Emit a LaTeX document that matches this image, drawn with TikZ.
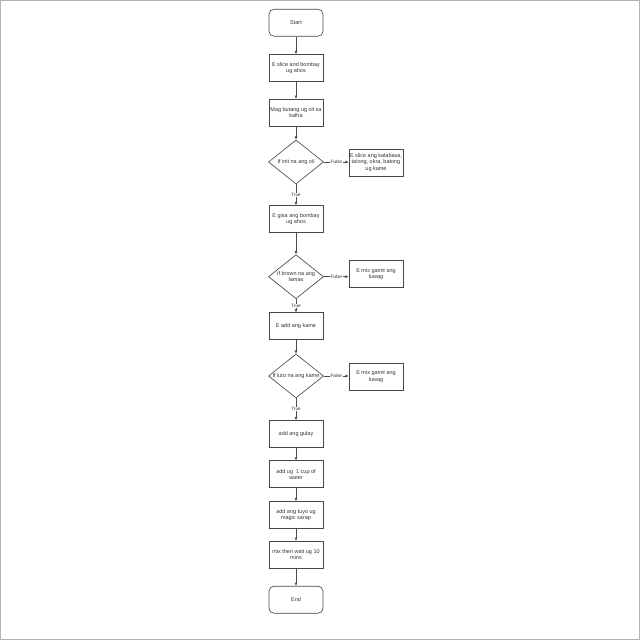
\documentclass[tikz,border=0pt]{standalone}
\usepackage{fontspec}
\setmainfont{Liberation Sans}
\usetikzlibrary{shapes.geometric,arrows.meta}
\begin{document}
\begin{tikzpicture}[x=1pt,y=-1pt,
  txt/.style={font=\fontsize{5.5}{6.4}\selectfont, text=black!80, align=center},
  boxstyle/.style={draw=black!72, line width=0.65pt, rectangle, minimum width=54pt, minimum height=27pt, inner sep=0pt, txt},
  termstyle/.style={boxstyle, rounded corners=5pt},
  diastyle/.style={draw=black!72, line width=0.65pt, diamond, minimum width=55pt, minimum height=44pt, inner sep=0pt},
  arr/.style={draw=black!70, line width=0.65pt, -{Latex[length=3.2pt,width=3pt]}},
  lbl/.style={font=\fontsize{4.7}{5}\selectfont, text=black!80, fill=white, inner sep=0.6pt}
]
\useasboundingbox (0,0) rectangle (641,641);
\draw[draw=black!30, line width=1.4pt] (0.7,0.7) rectangle (639.6,639.6);

\node[termstyle] (start) at (296,22.7) {Start};
\node[boxstyle] (b1) at (296,68) {E slice and bombay\\ug ahos};
\node[boxstyle] (b2) at (296,112.7) {Mag butang ug oil sa\\kalha};
\node[diastyle] (d1) at (296,162) {};
\node[txt] (d1t) at (d1.center) {If init na ang oil};
\node[boxstyle] (s1) at (376,162.5) {E slice ang kalabasa,\\talong, okra, batong\\ug kame};
\node[boxstyle] (b3) at (296,219) {E gisa ang bombay\\ug ahos};
\node[diastyle] (d2) at (296,276.7) {};
\node[txt] (d2t) at (d2.center) {If brown na ang\\lamas};
\node[boxstyle] (s2) at (376,274) {E mix gamit ang\\luwag};
\node[boxstyle] (b4) at (296,326.3) {E add ang kame};
\node[diastyle] (d3) at (296,376) {};
\node[txt] (d3t) at (d3.center) {If luto na ang kame};
\node[boxstyle] (s3) at (376,376.5) {E mix gamit ang\\luwag};
\node[boxstyle] (b5) at (296,434) {add ang gulay};
\node[boxstyle] (b6) at (296,474.3) {add ug\ \ 1 cup of\\water};
\node[boxstyle] (b7) at (296,515) {add ang tuyo ug\\magic sarap};
\node[boxstyle] (b8) at (296,554.7) {mix then wait ug 10\\mins};
\node[termstyle] (end) at (296,599.7) {End};

\draw[arr] (start) -- (b1);
\draw[arr] (b1) -- (b2);
\draw[arr] (b2) -- (d1.north);
\draw[arr] (d1.east) -- node[lbl] (f1) {False} (d1.east -| s1.west);
\draw[arr] (d1.south) -- node[lbl] (t1) {True} (b3.north);
\draw[arr] (b3) -- (d2.north);
\draw[arr] (d2.east) -- node[lbl] (f2) {False} (d2.east -| s2.west);
\draw[arr] (d2.south) -- node[lbl] (t2) {True} (b4.north);
\draw[arr] (b4) -- (d3.north);
\draw[arr] (d3.east) -- node[lbl] (f3) {False} (d3.east -| s3.west);
\draw[arr] (d3.south) -- node[lbl] (t3) {True} (b5.north);
\draw[arr] (b5) -- (b6);
\draw[arr] (b6) -- (b7);
\draw[arr] (b7) -- (b8);
\draw[arr] (b8) -- (end);
\end{tikzpicture}
\end{document}
